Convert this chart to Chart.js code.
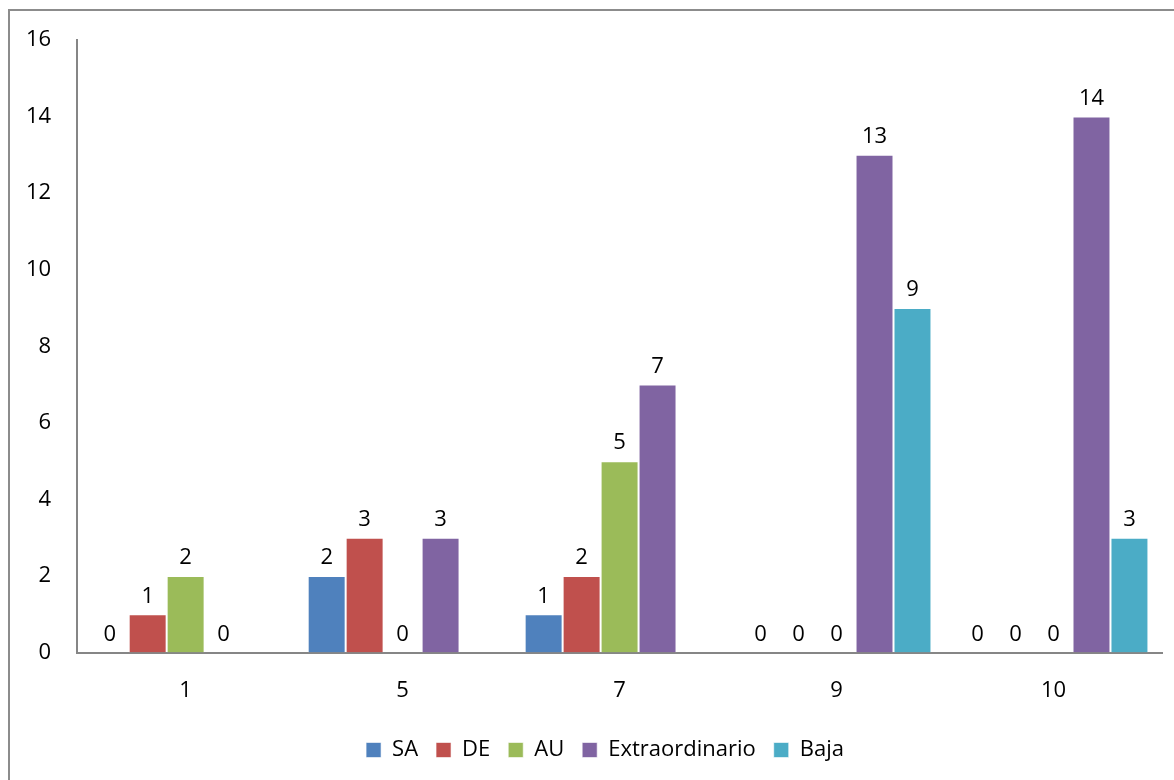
<!DOCTYPE html>
<html>
<head>
<meta charset="utf-8">
<script src="https://cdn.jsdelivr.net/npm/chart.js@4"></script>
<style>
  html, body { margin: 0; padding: 0; background: #fff; }
  #wrap { position: relative; width: 1174px; height: 780px; overflow: hidden; }
  #frame { position: absolute; left: 8px; top: 9px; width: 1200px; height: 800px; border: 2px solid #8c8c8c; box-sizing: border-box; }
  #chart-container { position: absolute; left: 0; top: 0; width: 1174px; height: 780px; }
</style>
</head>
<body>
<div id="wrap">
  <div id="frame"></div>
  <div id="chart-container"><canvas id="barChart"></canvas></div>
</div>
<script>
// categories and series
var categories = ['1', '5', '7', '9', '10'];
var seriesNames = ['SA', 'DE', 'AU', 'Extraordinario', 'Baja'];
var saValues = [0, 2, 1, 0, 0];
var deValues = [1, 3, 2, 0, 0];
var auValues = [2, 0, 5, 0, 0];
var extraValues = [0, 3, 7, 13, 14];
var bajaValues = [null, null, null, 9, 3];
var yTicks = [0, 2, 4, 6, 8, 10, 12, 14, 16];

var colors = ['#4F81BD', '#C0504D', '#9BBB59', '#8064A2', '#4BACC6'];
var allValues = [saValues, deValues, auValues, extraValues, bajaValues];
var fontFamily = '"Open Sans", Lato, sans-serif';
var fontSize = 22;

// draw the value above each bar (like Excel data labels)
var valueLabels = {
  id: 'valueLabels',
  afterDatasetsDraw: function (chart) {
    var ctx = chart.ctx;
    ctx.save();
    ctx.font = fontSize + 'px ' + fontFamily;
    ctx.fillStyle = '#000';
    ctx.textAlign = 'center';
    ctx.textBaseline = 'bottom';
    chart.data.datasets.forEach(function (ds, i) {
      var meta = chart.getDatasetMeta(i);
      meta.data.forEach(function (bar, j) {
        var v = ds.data[j];
        if (v === null || v === undefined) return;
        ctx.fillText(String(v), bar.x, bar.y - 7);
      });
    });
    ctx.restore();
  }
};

// the legend in the original sits a bit right of centre
var legendShift = {
  id: 'legendShift',
  afterLayout: function (chart) {
    if (chart.legend) {
      chart.legend.left += 20;
      chart.legend.right += 20;
    }
  }
};

var ctx = document.getElementById('barChart').getContext('2d');
window.barChart = new Chart(ctx, {
  type: 'bar',
  data: {
    labels: categories,
    datasets: seriesNames.map(function (name, i) {
      return {
        label: name,
        data: allValues[i],
        backgroundColor: colors[i],
        borderColor: 'rgba(255,255,255,0.6)',
        borderWidth: 1
      };
    })
  },
  options: {
    responsive: true,
    maintainAspectRatio: false,
    animation: false,
    layout: { padding: { left: 8, right: 12, top: 40, bottom: 9 } },
    datasets: {
      bar: { categoryPercentage: 0.875, barPercentage: 1.0 }
    },
    scales: {
      x: {
        grid: { display: false },
        border: { display: true, color: '#868686', width: 2 },
        ticks: { color: '#000', font: { family: fontFamily, size: fontSize }, padding: 17 }
      },
      y: {
        min: 0,
        max: 16,
        afterBuildTicks: function (axis) {
          axis.ticks = yTicks.map(function (v) { return { value: v }; });
        },
        grid: { display: false },
        border: { display: true, color: '#868686', width: 2 },
        ticks: { color: '#000', font: { family: fontFamily, size: fontSize }, padding: 18 }
      }
    },
    plugins: {
      legend: {
        position: 'bottom',
        labels: {
          color: '#000',
          font: { family: fontFamily, size: fontSize },
          boxWidth: 15,
          boxHeight: 15,
          padding: 18
        }
      },
      tooltip: { enabled: false }
    }
  },
  plugins: [valueLabels, legendShift]
});
</script>
</body>
</html>
